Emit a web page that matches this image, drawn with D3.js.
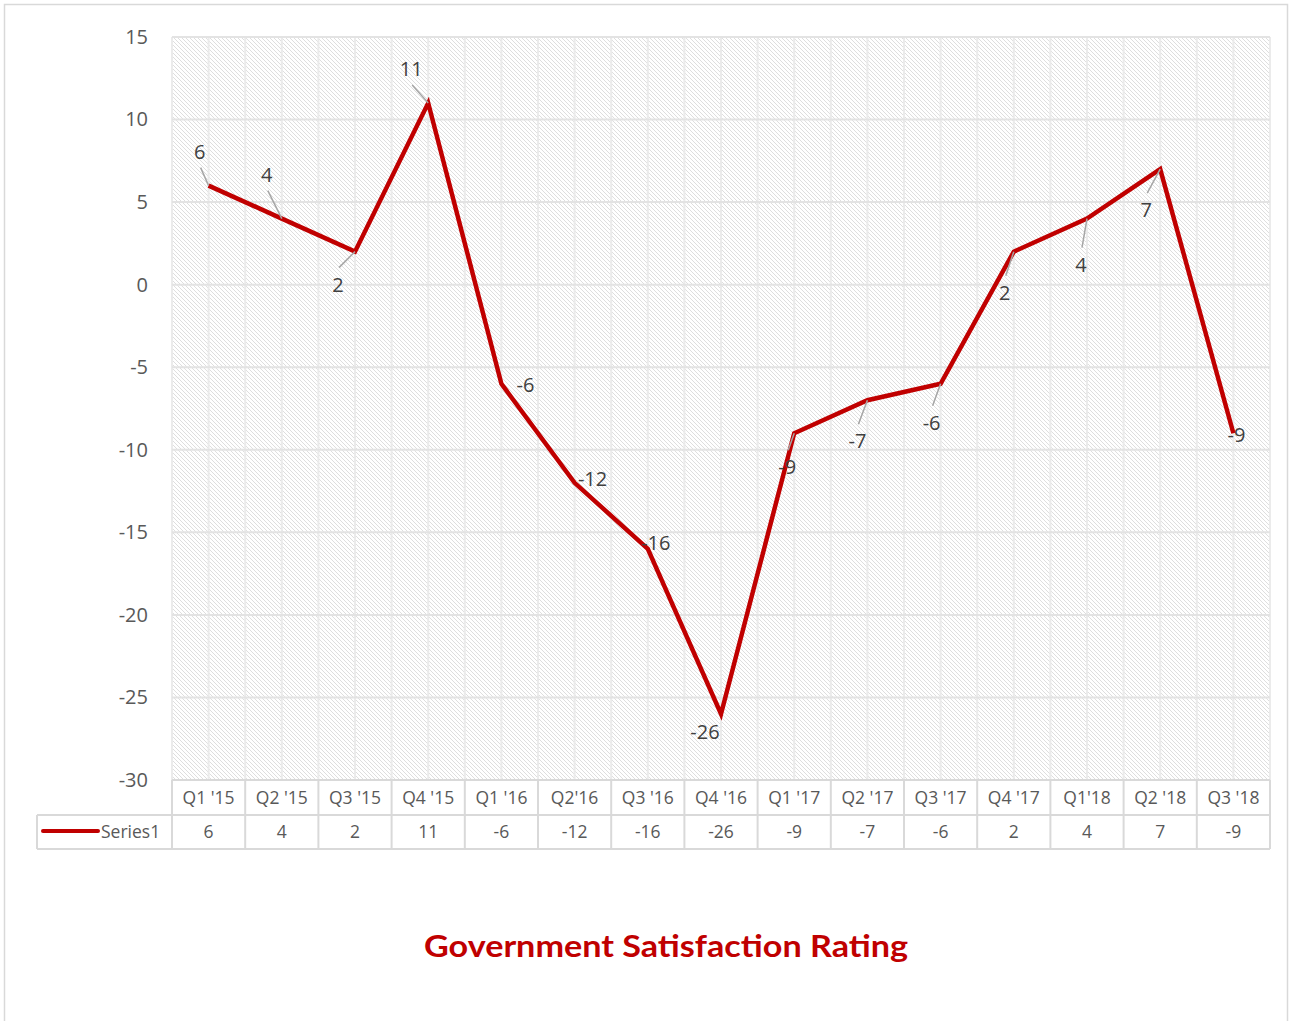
<!DOCTYPE html>
<html>
<head>
<meta charset="utf-8">
<script src="https://cdn.jsdelivr.net/npm/d3@7"></script>
<style>
  html, body { margin: 0; padding: 0; background: #fff; }
  svg { display: block; }
</style>
</head>
<body>
<svg id="chart" width="1295" height="1021"></svg>
<script>
// ---- data ----
const categories = ["Q1 '15","Q2 '15","Q3 '15","Q4 '15","Q1 '16","Q2'16","Q3 '16","Q4 '16","Q1 '17","Q2 '17","Q3 '17","Q4 '17","Q1'18","Q2 '18","Q3 '18"];
const values = [6, 4, 2, 11, -6, -12, -16, -26, -9, -7, -6, 2, 4, 7, -9];
const yTicks = [15, 10, 5, 0, -5, -10, -15, -20, -25, -30];
const seriesName = "Series1";
const titleText = "Government Satisfaction Rating";

// label placement (style/layout only): offset of label centre from point, and whether a leader line is drawn
const labelDx = [-9, -15, -17, -17, 24, 18, 8, -16, -7, -10, -9, -9, -6, -14, 3];
const labelDy = [-34, -44, 33, -34, 1, -4, -6, 18, 34, 41, 39, 41, 46, 41, 2];
const labelLeader = [1, 1, 1, 1, 0, 0, 0, 0, 1, 1, 1, 1, 1, 1, 0];

// ---- layout ----
const svg = d3.select("#chart");
const plot = { left: 172, right: 1270, top: 37, bottom: 780 };
const red = "#c00000";
const textGray = "#595959";
const borderGray = "#d9d9d9";
const font = "'Open Sans', 'Noto Sans', sans-serif";

// outer chart border
svg.append("rect").attr("x", 4.5).attr("y", 4.5).attr("width", 1283).attr("height", 1030)
  .attr("fill", "#fff").attr("stroke", borderGray).attr("stroke-width", 1.5);

// scales
const x = d3.scaleBand().domain(categories).range([plot.left, plot.right]).padding(0);
const y = d3.scaleLinear().domain([-30, 15]).range([plot.bottom, plot.top]);

// hatch pattern
const defs = svg.append("defs");
const pat = defs.append("pattern").attr("id", "hatch").attr("patternUnits", "userSpaceOnUse")
  .attr("width", 4).attr("height", 4);
pat.append("rect").attr("width", 4).attr("height", 4).attr("fill", "#fff");
pat.append("path").attr("d", "M-1,-1 L5,5 M-1,3 L1,5 M3,-1 L5,1")
  .attr("stroke", "#dedede").attr("stroke-width", 1);

svg.append("rect").attr("x", plot.left).attr("y", plot.top)
  .attr("width", plot.right - plot.left).attr("height", plot.bottom - plot.top)
  .attr("fill", "url(#hatch)");

// vertical gridlines (category boundaries and centres)
const vLines = [];
categories.forEach(c => { vLines.push(x(c)); vLines.push(x(c) + x.bandwidth() / 2); });
vLines.push(plot.right);
svg.append("g").selectAll("line").data(vLines).join("line")
  .attr("x1", d => d).attr("x2", d => d).attr("y1", plot.top).attr("y2", plot.bottom)
  .attr("stroke", "#ebebeb").attr("stroke-width", 2);

// horizontal gridlines
svg.append("g").selectAll("line").data(yTicks).join("line")
  .attr("x1", plot.left).attr("x2", plot.right).attr("y1", d => y(d)).attr("y2", d => y(d))
  .attr("stroke", "#e3e3e3").attr("stroke-width", 2);

// y axis labels
const yAxis = d3.axisLeft(y).tickValues(yTicks).tickSize(0).tickPadding(24).tickFormat(d => String(d));
const yg = svg.append("g").attr("transform", `translate(${plot.left},0)`).call(yAxis);
yg.select(".domain").remove();
yg.selectAll("text").attr("fill", textGray).style("font-family", font).style("font-size", "20px");

// line
const line = d3.line().x((d, i) => x(categories[i]) + x.bandwidth() / 2).y(d => y(d));
svg.append("path").datum(values).attr("d", line).attr("fill", "none")
  .attr("stroke", red).attr("stroke-width", 4.5).attr("stroke-linejoin", "miter");

// data labels
const lab = svg.append("g");
values.forEach((v, i) => {
  const px = x(categories[i]) + x.bandwidth() / 2, py = y(v);
  const lx = px + labelDx[i], ly = py + labelDy[i];
  if (labelLeader[i]) {
    lab.append("line").attr("x1", px).attr("y1", py)
      .attr("x2", lx + 1).attr("y2", ly + (labelDy[i] > 0 ? -17 : 16))
      .attr("stroke", "#a6a6a6").attr("stroke-width", 1.5);
  }
  lab.append("text").attr("x", lx).attr("y", ly).attr("dy", "0.35em")
    .attr("text-anchor", "middle").attr("fill", "#404040")
    .style("font-family", font).style("font-size", "20px").text(String(v));
});

// data table
const rowTop = plot.bottom, rowMid = 815, rowBot = 849, tableLeft = 37;
const tg = svg.append("g");
tg.append("line").attr("x1", plot.left).attr("x2", plot.right).attr("y1", rowTop).attr("y2", rowTop)
  .attr("stroke", borderGray).attr("stroke-width", 2);
tg.append("line").attr("x1", tableLeft).attr("x2", plot.right).attr("y1", rowMid).attr("y2", rowMid)
  .attr("stroke", borderGray).attr("stroke-width", 2);
tg.append("line").attr("x1", tableLeft).attr("x2", plot.right).attr("y1", rowBot).attr("y2", rowBot)
  .attr("stroke", borderGray).attr("stroke-width", 2);
tg.append("line").attr("x1", tableLeft).attr("x2", tableLeft).attr("y1", rowMid).attr("y2", rowBot)
  .attr("stroke", borderGray).attr("stroke-width", 2);
const tBounds = categories.map(c => x(c)).concat([plot.right]);
tg.selectAll("line.v").data(tBounds).join("line").attr("class", "v")
  .attr("x1", d => d).attr("x2", d => d).attr("y1", rowTop).attr("y2", rowBot)
  .attr("stroke", borderGray).attr("stroke-width", 2);
tg.selectAll("text.cat").data(categories).join("text").attr("class", "cat")
  .attr("x", d => x(d) + x.bandwidth() / 2).attr("y", (rowTop + rowMid) / 2).attr("dy", "0.36em")
  .attr("text-anchor", "middle").attr("fill", textGray)
  .style("font-family", font).style("font-size", "17.5px").text(d => d);
tg.selectAll("text.val").data(values).join("text").attr("class", "val")
  .attr("x", (d, i) => x(categories[i]) + x.bandwidth() / 2).attr("y", (rowMid + rowBot) / 2).attr("dy", "0.36em")
  .attr("text-anchor", "middle").attr("fill", textGray)
  .style("font-family", font).style("font-size", "17.5px").text(d => String(d));
tg.append("line").attr("x1", 43).attr("x2", 98).attr("y1", 831).attr("y2", 831)
  .attr("stroke", red).attr("stroke-width", 4).attr("stroke-linecap", "round");
tg.append("text").attr("x", 101).attr("y", (rowMid + rowBot) / 2).attr("dy", "0.36em")
  .attr("fill", textGray).style("font-family", font).style("font-size", "17.5px").text(seriesName);

// title
svg.append("text").attr("x", 666).attr("y", 957).attr("text-anchor", "middle")
  .attr("fill", red).attr("textLength", 484).attr("lengthAdjust", "spacingAndGlyphs")
  .style("font-family", "'Lato', 'DejaVu Sans', sans-serif").style("font-weight", "bold")
  .style("font-size", "30px").text(titleText);
</script>
</body>
</html>
